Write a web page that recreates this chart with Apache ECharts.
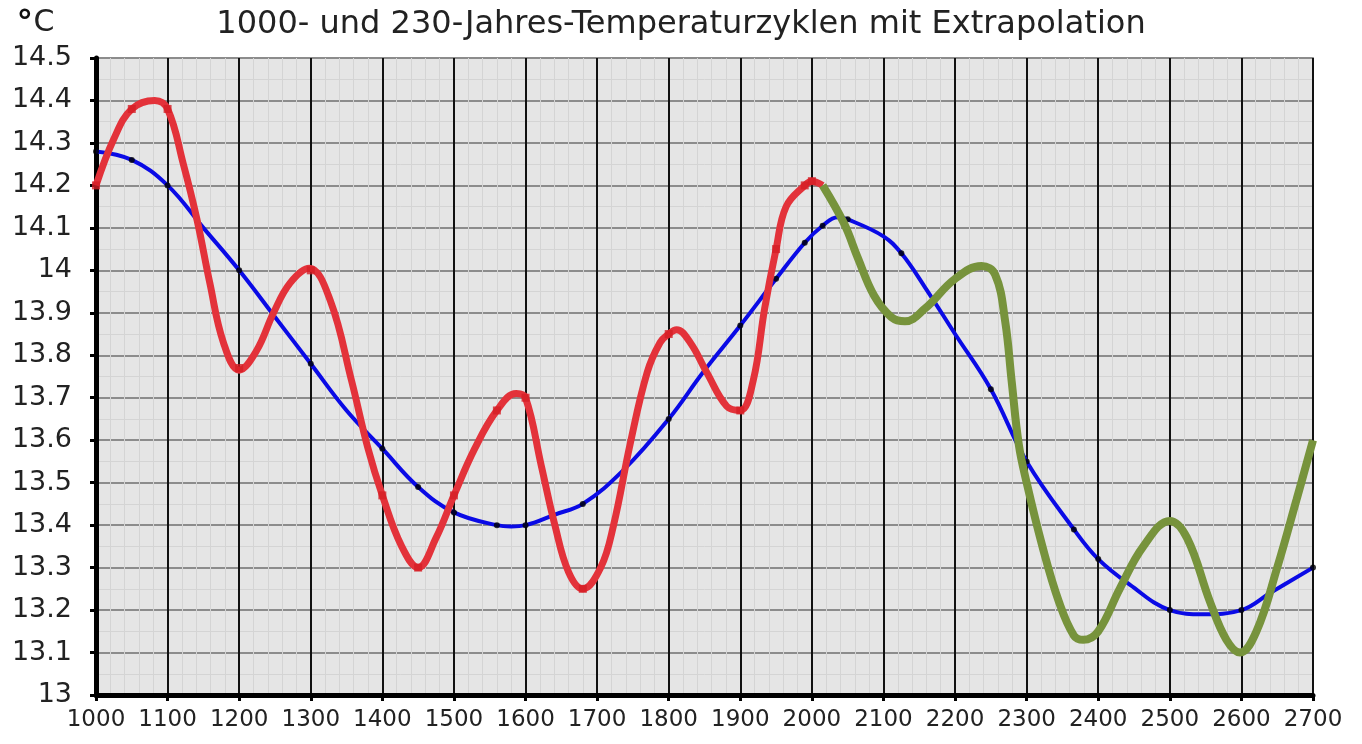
<!DOCTYPE html>
<html>
<head>
<meta charset="utf-8">
<script src="https://cdn.jsdelivr.net/npm/echarts@6/dist/echarts.min.js"></script>
<style>
  html, body { margin: 0; padding: 0; background: #fff; }
  #chart { width: 1362px; height: 744px; }
</style>
</head>
<body>
<div id="chart"></div>
<script>
  var blueYears  = [1000, 1050, 1100, 1150, 1200, 1250, 1300, 1350, 1400, 1450, 1500, 1560, 1580, 1600, 1641, 1680, 1737, 1800, 1848, 1900, 1950, 1990, 2015, 2036, 2050, 2100, 2125, 2158, 2200, 2250, 2300, 2366, 2400, 2444, 2500, 2547, 2600, 2640, 2700];
  var blueValues = [14.28, 14.26, 14.20, 14.10, 14.00, 13.89, 13.78, 13.67, 13.58, 13.49, 13.43, 13.40, 13.397, 13.40, 13.425, 13.45, 13.53, 13.65, 13.76, 13.87, 13.98, 14.065, 14.105, 14.125, 14.12, 14.08, 14.04, 13.96, 13.85, 13.72, 13.55, 13.39, 13.32, 13.26, 13.20, 13.19, 13.20, 13.24, 13.30];
  // schwarze Punkte auf der blauen Kurve
  var blueDotYears  = [1000, 1050, 1100, 1200, 1300, 1400, 1450, 1500, 1560, 1600, 1680, 1800, 1900, 1950, 1990, 2015, 2050, 2125, 2250, 2300, 2366, 2400, 2500, 2600, 2700];
  var blueDotValues = [14.28, 14.26, 14.20, 14.00, 13.78, 13.58, 13.49, 13.43, 13.40, 13.40, 13.45, 13.65, 13.87, 13.98, 14.065, 14.105, 14.12, 14.04, 13.72, 13.55, 13.39, 13.32, 13.20, 13.20, 13.30];

  // 230-Jahres-Zyklus (rot)
  var redYears  = [1000, 1025, 1050, 1082, 1100, 1122, 1141, 1159, 1178, 1200, 1224, 1248, 1271, 1298, 1327, 1357, 1380, 1400, 1427, 1450, 1475, 1500, 1529, 1560, 1587, 1600, 1622, 1641, 1660, 1680, 1705, 1723, 1746, 1770, 1788, 1800, 1811, 1830, 1853, 1881, 1900, 1918, 1934, 1950, 1964, 1990, 2000, 2015];
  var redValues = [14.20, 14.31, 14.38, 14.40, 14.38, 14.25, 14.12, 13.97, 13.83, 13.765, 13.81, 13.90, 13.97, 14.005, 13.93, 13.74, 13.58, 13.47, 13.35, 13.30, 13.37, 13.47, 13.58, 13.67, 13.71, 13.70, 13.54, 13.40, 13.29, 13.25, 13.30, 13.40, 13.59, 13.76, 13.83, 13.85, 13.86, 13.83, 13.76, 13.68, 13.67, 13.74, 13.91, 14.05, 14.15, 14.20, 14.21, 14.20];
  // rote Quadrate
  var redDotYears  = [1000, 1050, 1100, 1200, 1300, 1400, 1450, 1500, 1560, 1600, 1680, 1800, 1900, 1950, 1990, 2000];
  var redDotValues = [14.20, 14.38, 14.38, 13.77, 14.00, 13.47, 13.30, 13.47, 13.67, 13.70, 13.25, 13.85, 13.67, 14.05, 14.20, 14.21];

  // Extrapolation (gruen)
  var greenYears  = [2015, 2045, 2064, 2087, 2111, 2130, 2158, 2200, 2237, 2256, 2270, 2279, 2289, 2300, 2322, 2345, 2366, 2379, 2400, 2430, 2463, 2500, 2524, 2556, 2579, 2598, 2621, 2650, 2677, 2700];
  var greenValues = [14.20, 14.11, 14.03, 13.94, 13.89, 13.88, 13.91, 13.98, 14.01, 13.99, 13.88, 13.74, 13.59, 13.50, 13.35, 13.22, 13.14, 13.13, 13.15, 13.25, 13.35, 13.41, 13.37, 13.22, 13.13, 13.10, 13.15, 13.30, 13.46, 13.60];

  var yTicks = ['13', '13.1', '13.2', '13.3', '13.4', '13.5', '13.6', '13.7', '13.8', '13.9', '14', '14.1', '14.2', '14.3', '14.4', '14.5'];

  function pairs(xs, ys) {
    return xs.map(function (x, i) { return [x, ys[i]]; });
  }

  var chart = echarts.init(document.getElementById('chart'));
  chart.setOption({
    animation: false,
    backgroundColor: '#ffffff',
    textStyle: { fontFamily: 'DejaVu Sans' },
    title: {
      text: '1000- und 230-Jahres-Temperaturzyklen mit Extrapolation',
      left: 'center',
      top: 4,
      textStyle: { fontFamily: 'DejaVu Sans', fontSize: 32, fontWeight: 'normal', color: '#222' }
    },
    graphic: [{
      type: 'text',
      left: 18,
      top: 6,
      style: {
        text: '{d|°}C',
        fill: '#222',
        font: '30px DejaVu Sans',
        rich: {
          d: { fontSize: 34, fontWeight: 'bold', fill: '#111', padding: [0, 2, 0, 0] }
        }
      }
    }],
    grid: {
      left: 96,
      right: 49,
      top: 58,
      bottom: 49,
      show: true,
      backgroundColor: '#e5e5e5',
      borderColor: '#a0a0a0',
      borderWidth: 2
    },
    xAxis: {
      type: 'value',
      min: 1000,
      max: 2700,
      interval: 100,
      axisLine: { show: true, onZero: false, lineStyle: { color: '#000', width: 5 } },
      axisTick: { show: true, length: 6, lineStyle: { color: '#000', width: 3 } },
      axisLabel: {
        color: '#222',
        fontSize: 23,
        margin: 14,
        formatter: function (v) { return String(v); }
      },
      splitLine: { show: true, lineStyle: { color: '#111', width: 2 } },
      minorTick: { show: false, splitNumber: 5 },
      minorSplitLine: { show: true, lineStyle: { color: '#d4d4d4', width: 1 } }
    },
    yAxis: {
      type: 'value',
      min: 13,
      max: 14.5,
      interval: 0.1,
      axisLine: { show: true, onZero: false, lineStyle: { color: '#000', width: 5 } },
      axisTick: { show: true, length: 6, lineStyle: { color: '#000', width: 3 } },
      axisLabel: {
        color: '#222',
        fontSize: 27,
        margin: 24,
        formatter: function (v) {
          var i = Math.round((v - 13) * 10);
          return yTicks[i];
        }
      },
      splitLine: { show: true, lineStyle: { color: '#8c8c8c', width: 2 } },
      minorTick: { show: false, splitNumber: 2 },
      minorSplitLine: { show: true, lineStyle: { color: '#d4d4d4', width: 1 } }
    },
    series: [
      {
        name: '1000-Jahres-Zyklus',
        type: 'line',
        smooth: 0.4,
        data: pairs(blueYears, blueValues),
        showSymbol: false,
        lineStyle: { color: '#0a0ae6', width: 4 },
        z: 2
      },
      {
        name: '1000-Jahres-Punkte',
        type: 'scatter',
        data: pairs(blueDotYears, blueDotValues),
        symbol: 'circle',
        symbolSize: 6,
        itemStyle: { color: '#000' },
        z: 3
      },
      {
        name: '230-Jahres-Zyklus',
        type: 'line',
        smooth: 0.4,
        data: pairs(redYears, redValues),
        showSymbol: false,
        lineStyle: { color: '#e3323a', width: 7 },
        z: 4
      },
      {
        name: '230-Jahres-Punkte',
        type: 'scatter',
        data: pairs(redDotYears, redDotValues),
        symbol: 'rect',
        symbolSize: 8,
        itemStyle: { color: '#d41e26' },
        z: 5
      },
      {
        name: 'Extrapolation',
        type: 'line',
        smooth: 0.4,
        data: pairs(greenYears, greenValues),
        showSymbol: false,
        lineStyle: { color: '#77933c', width: 8 },
        z: 6
      }
    ]
  });
</script>
</body>
</html>
